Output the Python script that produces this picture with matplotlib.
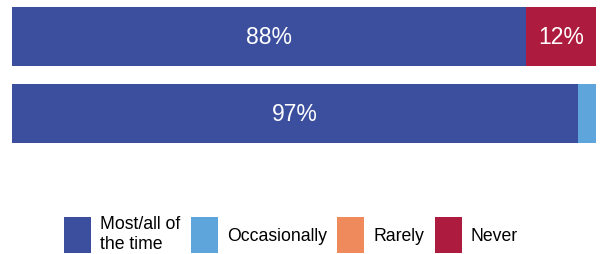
import matplotlib
matplotlib.use("Agg")
import matplotlib.pyplot as plt
from matplotlib.patches import Patch

plt.rcParams["font.family"] = ["Liberation Sans", "DejaVu Sans"]

categories = ["Most/all of\nthe time", "Occasionally", "Rarely", "Never"]
colors = ["#3C4F9F", "#5DA5DA", "#EE8A5C", "#AD1C3E"]
rows = ["A", "B"]
values = {
    "Most/all of\nthe time": [88, 97],
    "Occasionally": [0, 3],
    "Rarely": [0, 0],
    "Never": [12, 0],
}

W, H = 603, 255
fig = plt.figure(figsize=(W / 100, H / 100), dpi=100)
ax = fig.add_axes([12 / W, 1 - 144 / H, (596 - 12) / W, (144 - 8) / H])

h = 0.766
left = [0, 0]
for cat, col in zip(categories, colors):
    vals = values[cat]
    ax.barh(range(len(rows)), vals, left=left, height=h, color=col, linewidth=0)
    for i, v in enumerate(vals):
        if v >= 10:
            ax.text(left[i] + v / 2, i, f"{v}%", ha="center", va="center",
                    color="white", fontsize=16.5)
    left = [l + v for l, v in zip(left, vals)]

ax.set_xlim(0, 100)
ax.set_ylim(1 + h / 2, -h / 2)
ax.axis("off")

handles = [Patch(facecolor=c, edgecolor="none", label=l) for c, l in zip(colors, categories)]
fig.legend(handles=handles, loc="center", bbox_to_anchor=(291 / W, 1 - 235 / H),
           ncol=4, frameon=False, fontsize=12.7, handlelength=1.53, handleheight=2.77,
           handletextpad=0.5, columnspacing=0.6, borderpad=0)

fig.savefig("out.png", dpi=100)
